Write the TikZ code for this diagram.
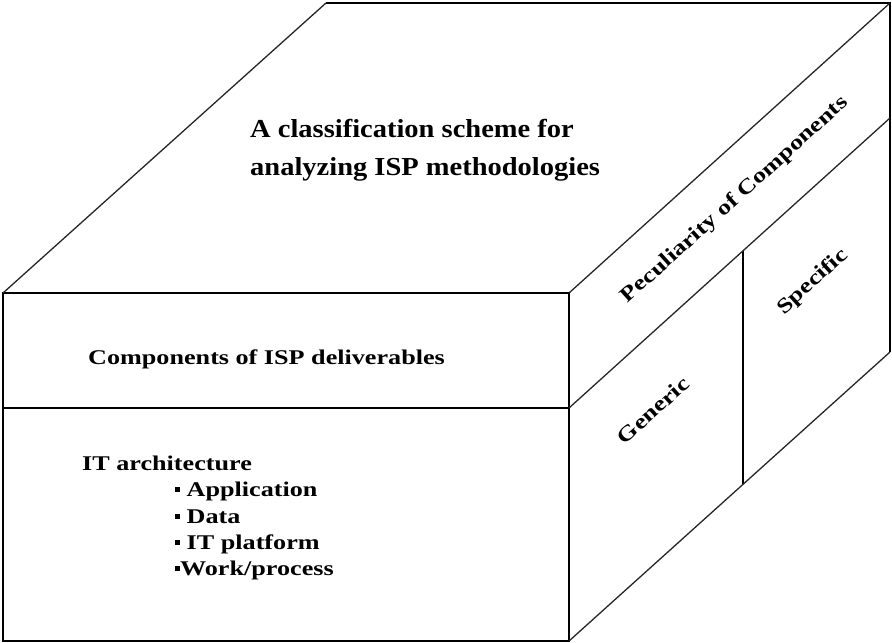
\documentclass[tikz,border=0pt]{standalone}
\usepackage{fontspec}
\setmainfont{Liberation Serif}
\newfontfamily\wideserif{Liberation Serif}[FakeStretch=1.25]
\newfontfamily\titleserif{Liberation Serif}[FakeStretch=1.1]
\usepackage{tikz}
\newcommand{\sqmark}{\rule[4bp]{5bp}{5bp}}
\tikzset{
  edgeline/.style={draw=black, line width=1.5bp},
  slantline/.style={draw=black!85, line width=1.3bp},
  titletext/.style={
    font=\titleserif\bfseries\fontsize{26}{38}\selectfont,
    inner sep=0pt,
    anchor=base west},
  facetext/.style={
    font=\wideserif\bfseries\fontsize{21}{26}\selectfont,
    inner sep=0pt},
  listtext/.style={facetext, anchor=base west},
  sidetext/.style={facetext, rotate=42.1},
}

\begin{document}
\begin{tikzpicture}[x=1bp, y=-1bp]
     \useasboundingbox (0,0) rectangle (892,643);
     % corners of the box
     \coordinate (frontNW) at (3,293);
     \coordinate (frontNE) at (569,293);
     \coordinate (frontSE) at (569,641);
     \coordinate (frontSW) at (3,641);
     \coordinate (backNW)  at (326,3);
     \coordinate (backNE)  at (890,3);
     \coordinate (backSE)  at (890,352);
     \coordinate (midW)    at (3,408);
     \coordinate (midE)    at (569,408);
     \coordinate (midBack) at (890,118);
     \coordinate (splitN)  at (743,251);
     \coordinate (splitS)  at (743,484);

     \draw[edgeline] (frontNW) rectangle (frontSE);
     \draw[edgeline] (midW) -- (midE);
     \draw[edgeline] (backNW) -- (backNE) -- (backSE);
     \draw[edgeline] (splitN) -- (splitS);
     \draw[slantline] (frontNW) -- (backNW);
     \draw[slantline] (frontNE) -- (backNE);
     \draw[slantline] (frontSE) -- (backSE);
     \draw[slantline] (midE) -- (midBack);

     % top face
     \node[titletext] (titleA) at (250,138) {A classification scheme for};
     \node[titletext] (titleB) at (250,176) {analyzing ISP methodologies};

     % front face
     \node[listtext] (deliv)    at (88,364) {Components of ISP deliverables};
     \node[listtext] (itarch)   at (82,470) {IT architecture};
     \node[listtext] (app)      at (175,496) {\sqmark\ Application};
     \node[listtext] (data)     at (175,523) {\sqmark\ Data};
     \node[listtext] (platform) at (175,549) {\sqmark\ IT platform};
     \node[listtext] (work)     at (175,575) {\sqmark Work/process};

     % right face
     \node[sidetext] (peculiar) at (735,200) {Peculiarity of Components};
     \node[sidetext] (generic)  at (653,410) {Generic};
     \node[sidetext] (specific) at (813,282) {Specific};
\end{tikzpicture}
\end{document}
